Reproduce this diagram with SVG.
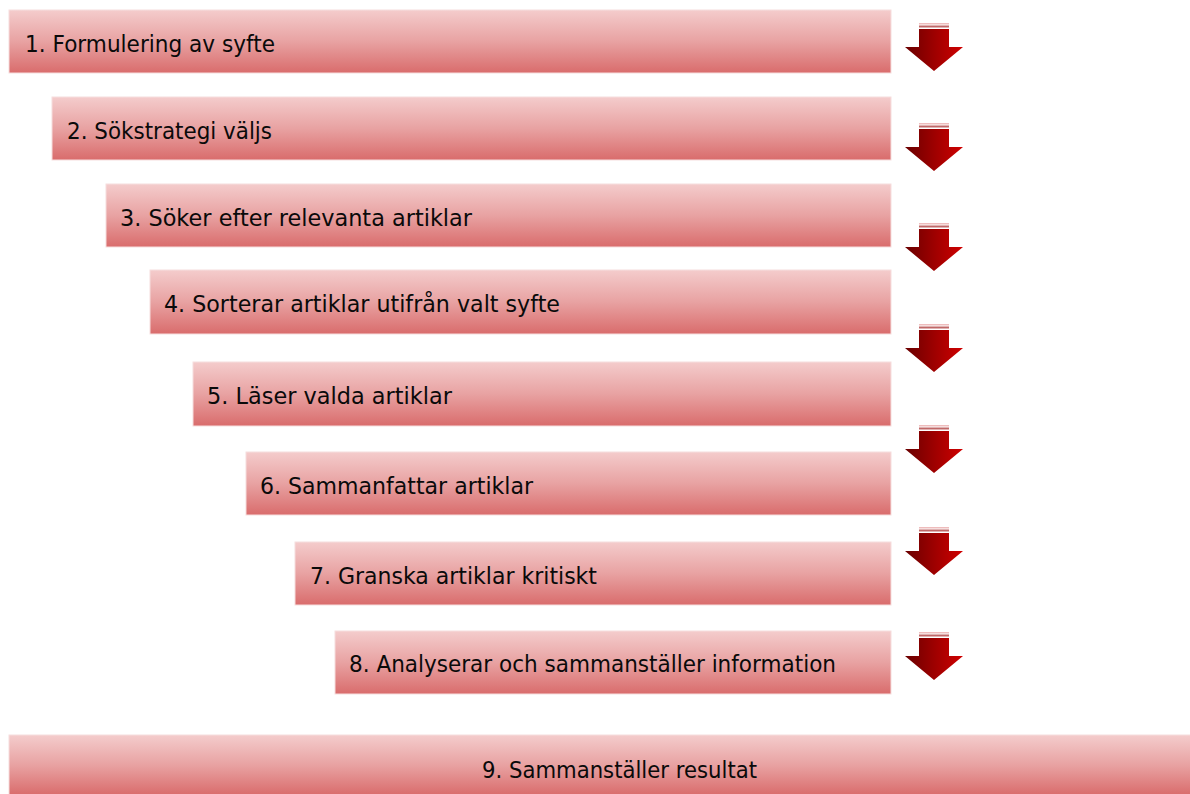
<svg xmlns="http://www.w3.org/2000/svg" width="1190" height="794" viewBox="0 0 1190 794">
<defs>
<linearGradient id="boxg" x1="0" y1="0" x2="0" y2="1">
<stop offset="0" stop-color="#f4cccc"/>
<stop offset="0.5" stop-color="#e8a2a2"/>
<stop offset="1" stop-color="#d96c6c"/>
</linearGradient>
<linearGradient id="arrg" x1="0" y1="0" x2="1" y2="0">
<stop offset="0" stop-color="#6a0000"/>
<stop offset="1" stop-color="#d00000"/>
</linearGradient>
<g id="arrow">
<rect x="919" y="0" width="30" height="1.5" fill="#eebcbc"/>
<rect x="919" y="2.5" width="30" height="2" fill="#c06868"/>
<path d="M919 6 H949 V24 H963 L934 48 L905 24 H919 Z" fill="url(#arrg)"/>
</g>
</defs>
<style>
.box{fill:url(#boxg);stroke:#f6dede;stroke-width:1}
.lbl{font-family:"DejaVu Sans","Liberation Sans",sans-serif;font-size:22.5px;fill:#0a0a0a}
</style>
<rect width="1190" height="794" fill="#fff"/>
<g id="node1"><rect class="box" x="9" y="10" width="882" height="63"/><text class="lbl" x="25" y="52" textLength="250" lengthAdjust="spacingAndGlyphs">1. Formulering av syfte</text></g>
<g id="node2"><rect class="box" x="52" y="97" width="839" height="63"/><text class="lbl" x="67" y="139" textLength="205" lengthAdjust="spacingAndGlyphs">2. Sökstrategi väljs</text></g>
<g id="node3"><rect class="box" x="106" y="184" width="785" height="63"/><text class="lbl" x="120" y="226" textLength="352" lengthAdjust="spacingAndGlyphs">3. Söker efter relevanta artiklar</text></g>
<g id="node4"><rect class="box" x="150" y="270" width="741" height="64"/><text class="lbl" x="164" y="312" textLength="396" lengthAdjust="spacingAndGlyphs">4. Sorterar artiklar utifrån valt syfte</text></g>
<g id="node5"><rect class="box" x="193" y="362" width="698" height="64"/><text class="lbl" x="207" y="404" textLength="245" lengthAdjust="spacingAndGlyphs">5. Läser valda artiklar</text></g>
<g id="node6"><rect class="box" x="246" y="452" width="645" height="63"/><text class="lbl" x="260" y="494" textLength="273" lengthAdjust="spacingAndGlyphs">6. Sammanfattar artiklar</text></g>
<g id="node7"><rect class="box" x="295" y="542" width="596" height="63"/><text class="lbl" x="310" y="584" textLength="287" lengthAdjust="spacingAndGlyphs">7. Granska artiklar kritiskt</text></g>
<g id="node8"><rect class="box" x="335" y="631" width="556" height="63"/><text class="lbl" x="349" y="672" textLength="487" lengthAdjust="spacingAndGlyphs">8. Analyserar och sammanställer information</text></g>
<g id="node9"><rect class="box" x="9" y="735" width="1182" height="60"/><text class="lbl" x="482" y="778" textLength="275" lengthAdjust="spacingAndGlyphs">9. Sammanställer resultat</text></g>
<g id="connectors">
<use href="#arrow" y="23"/>
<use href="#arrow" y="123"/>
<use href="#arrow" y="223"/>
<use href="#arrow" y="324"/>
<use href="#arrow" y="425"/>
<use href="#arrow" y="527"/>
<use href="#arrow" y="632"/>
</g>
</svg>
